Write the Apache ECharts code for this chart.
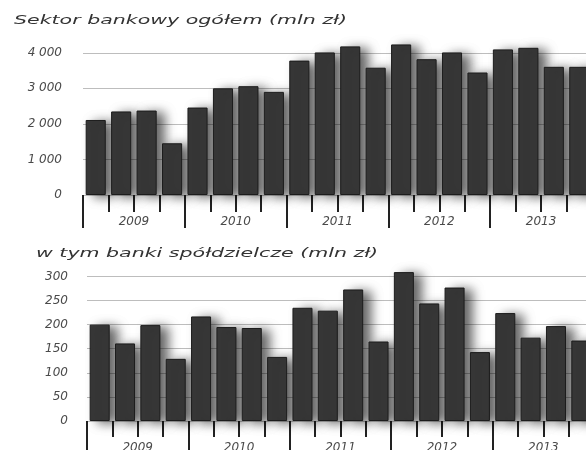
<!DOCTYPE html>
<html>
<head>
<meta charset="utf-8">
<script src="https://cdn.jsdelivr.net/npm/echarts@6/dist/echarts.min.js"></script>
<style>
  html, body { margin: 0; padding: 0; background: #fff; }
  #chart { width: 586px; height: 450px; }
</style>
</head>
<body>
<div id="chart"></div>
<script>
// dane kwartalne 2009-2013
var lata = ['2009', '2010', '2011', '2012', '2013'];
var kwartaly = ['I 09', 'II 09', 'III 09', 'IV 09', 'I 10', 'II 10', 'III 10', 'IV 10',
    'I 11', 'II 11', 'III 11', 'IV 11', 'I 12', 'II 12', 'III 12', 'IV 12',
    'I 13', 'II 13', 'III 13', 'IV 13'];
var sektorOgolem = [2110, 2350, 2375, 1455, 2460, 3000, 3060, 2900,
    3780, 4010, 4180, 3580, 4235, 3820, 4010, 3445, 4095, 4140, 3605, 3605];
var bankiSpoldzielcze = [200, 161, 199, 129, 217, 195, 193, 133,
    235, 229, 273, 165, 309, 244, 277, 143, 224, 173, 197, 167];

var font = 'DejaVu Sans';
var szary = '#4a4a4a';

function formatTys(v) {
    var s = String(v);
    if (s.length > 3) s = s.slice(0, s.length - 3) + ' ' + s.slice(-3);
    return s;
}

var styleSlupka = {
    color: '#383838',
    borderColor: '#1c1c1c',
    borderWidth: 1,
    shadowColor: 'rgba(0,0,0,0.6)',
    shadowBlur: 11,
    shadowOffsetX: 8,
    shadowOffsetY: 2
};

function osKwartalow(grid, dlugosc) {
    return {
        type: 'category', gridIndex: grid, data: kwartaly, position: 'bottom',
        axisLine: { show: false },
        axisTick: { show: true, interval: 0, length: dlugosc, lineStyle: { color: '#222', width: 2 } },
        axisLabel: { show: false },
        splitLine: { show: false }
    };
}

function osLat(grid, dlugosc, margin) {
    return {
        type: 'category', gridIndex: grid, data: lata, position: 'bottom',
        axisLine: { show: false },
        axisTick: { show: true, interval: 0, length: dlugosc, lineStyle: { color: '#222', width: 2 } },
        axisLabel: { show: true, interval: 0, margin: margin, color: szary, fontFamily: font,
            fontStyle: 'italic', fontSize: 12 },
        splitLine: { show: false }
    };
}

function osWartosci(grid, max, interval, margin, fmt) {
    return {
        type: 'value', gridIndex: grid, min: 0, max: max, interval: interval,
        axisLine: { show: false },
        axisTick: { show: false },
        axisLabel: { margin: margin, color: szary, fontFamily: font, fontStyle: 'italic',
            fontSize: 12, showMaxLabel: false, formatter: fmt },
        splitLine: { show: true, showMaxLine: false, lineStyle: { color: '#bdbdbd', width: 1 } }
    };
}

function tytul(tekst, x, y) {
    return {
        type: 'text', left: x, top: y, scaleX: 1.58,
        style: { text: tekst, fill: '#333', font: 'italic 13px "DejaVu Sans"' }
    };
}

var chart = echarts.init(document.getElementById('chart'));
chart.setOption({
    animation: false,
    backgroundColor: '#fff',
    graphic: [
        tytul('Sektor bankowy ogółem (mln zł)', 14, 14),
        tytul('w tym banki spółdzielcze (mln zł)', 36, 247)
    ],
    grid: [
        { left: 83, right: -6, top: 35, bottom: 255, outerBoundsMode: 'none' },
        { left: 87, right: -8, top: 262, bottom: 29, outerBoundsMode: 'none' }
    ],
    xAxis: [
        osKwartalow(0, 17),
        osLat(0, 33, 21),
        osKwartalow(1, 16),
        osLat(1, 40, 21)
    ],
    yAxis: [
        osWartosci(0, 4500, 1000, 21, formatTys),
        osWartosci(1, 330, 50, 19, null)
    ],
    series: [
        { type: 'bar', xAxisIndex: 0, yAxisIndex: 0, data: sektorOgolem,
          barCategoryGap: '21%', itemStyle: styleSlupka },
        { type: 'bar', xAxisIndex: 2, yAxisIndex: 1, data: bankiSpoldzielcze,
          barCategoryGap: '21%', itemStyle: styleSlupka }
    ]
});
</script>
</body>
</html>
